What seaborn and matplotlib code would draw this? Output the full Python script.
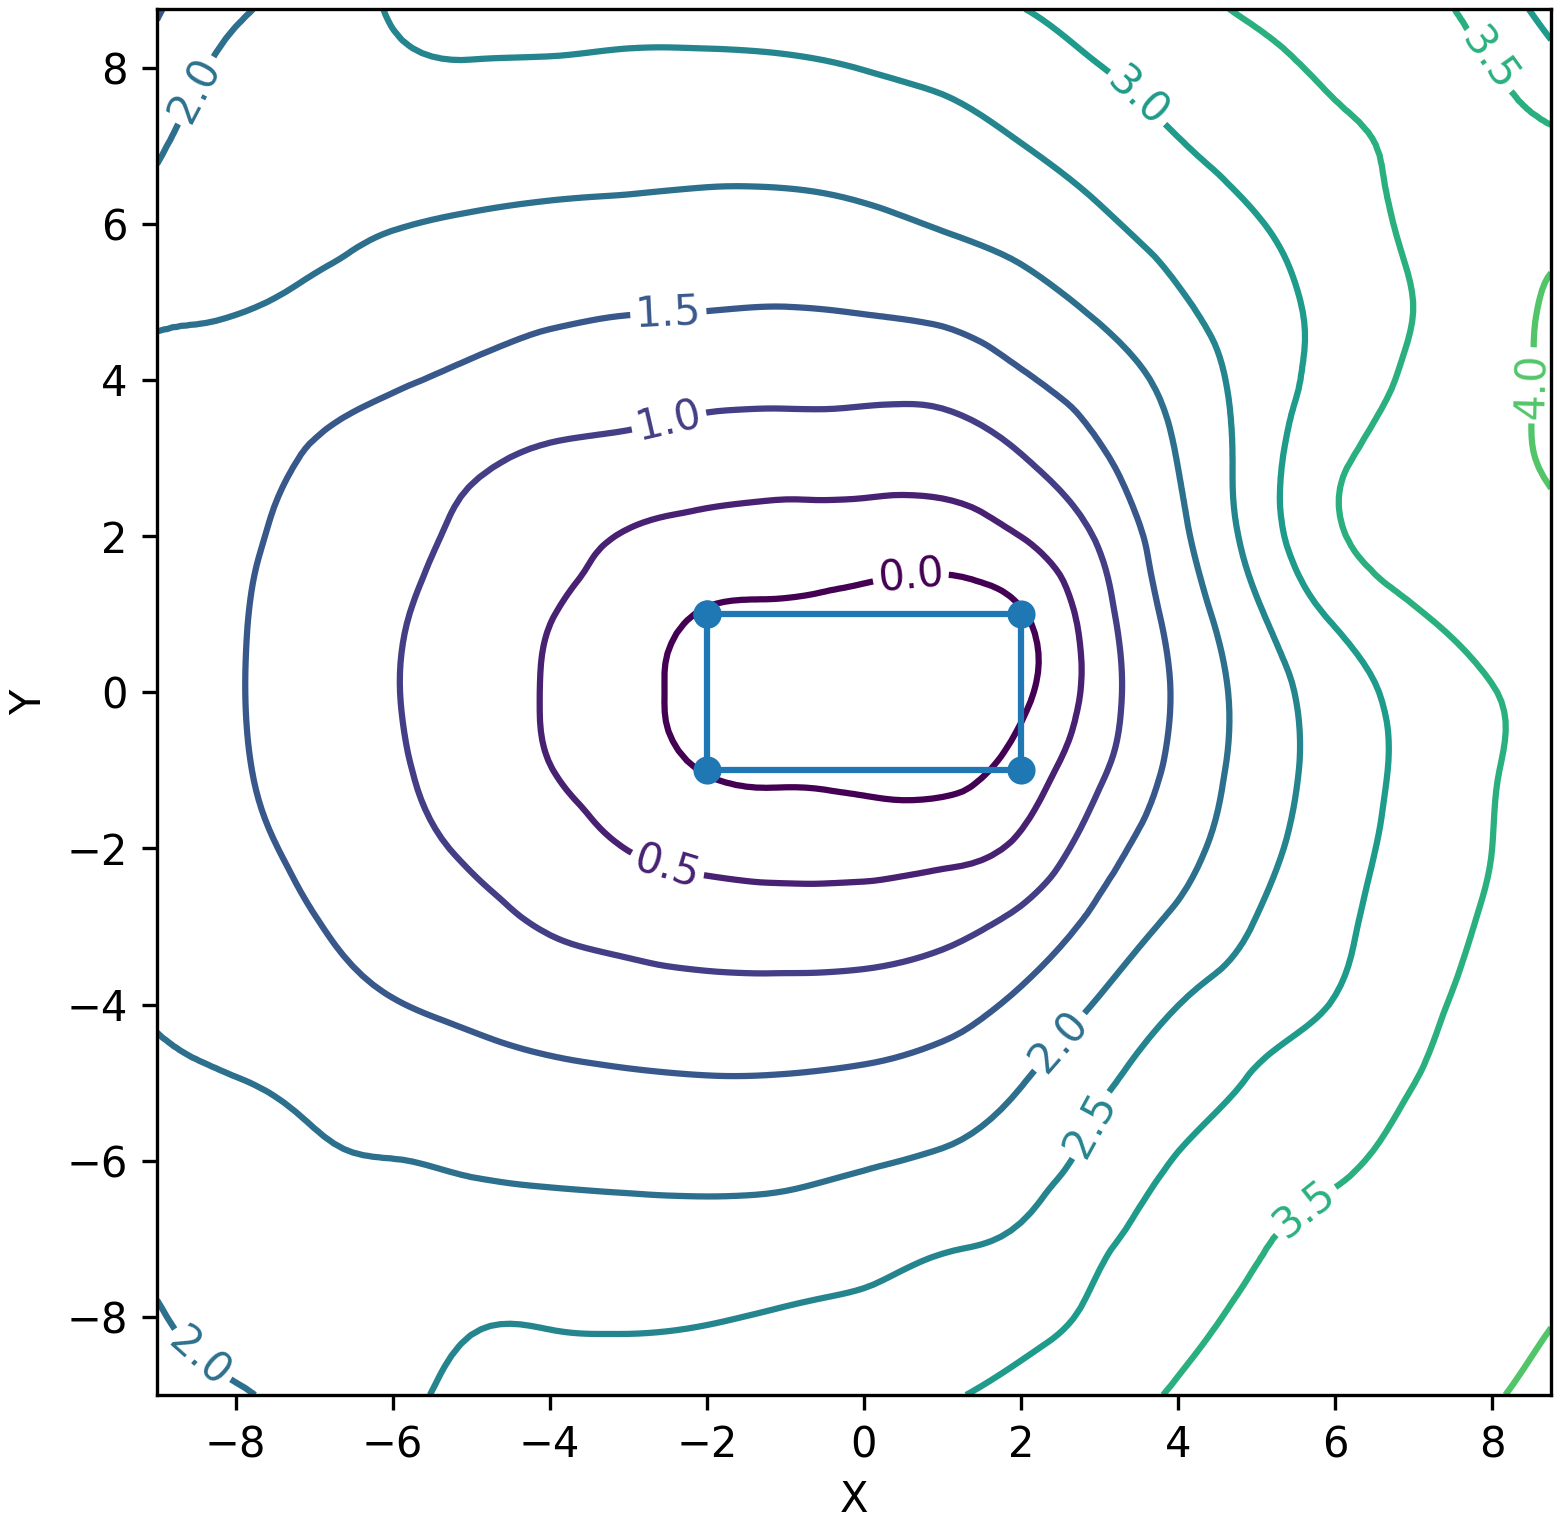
import numpy as np
import matplotlib
matplotlib.use("Agg")
from matplotlib import pyplot as plt
import matplotlib.tri as mtri
import seaborn as sns

# grid coordinates (last column/row sits on the plot edge at 8.75)
x_grid = [-9, -8, -7, -6, -5, -4, -3, -2, -1, 0, 1, 2, 3, 4, 5, 6, 7, 8, 8.75]
y_grid = [8.75, 8, 7, 6, 5, 4, 3, 2, 1, 0, -1, -2, -3, -4, -5, -6, -7, -8, -9]

# field values, one list per row (top row first)
z_y875 = [1.46, 1.93, 2.22, 2.53, 2.62, 2.63, 2.64, 2.64, 2.68, 2.76, 2.88, 2.99, 3.20, 3.37, 3.56, 3.62, 3.60, 3.30, 2.78]
z_y8 = [1.664, 2.12, 2.25, 2.42, 2.477, 2.465, 2.435, 2.433, 2.449, 2.51, 2.61, 2.77, 2.99, 3.19, 3.39, 3.55, 3.60, 3.51, 3.18]
z_y7 = [1.937, 2.25, 2.20, 2.22, 2.22, 2.196, 2.176, 2.156, 2.163, 2.22, 2.316, 2.49, 2.715, 2.973, 3.198, 3.42, 3.56, 3.63, 3.59]
z_y6 = [2.14, 2.20, 2.12, 2.02, 1.96, 1.918, 1.886, 1.86, 1.857, 1.915, 2.03, 2.178, 2.426, 2.70, 2.973, 3.27, 3.57, 3.75, 3.84]
z_y5 = [2.06, 2.05, 1.91, 1.787, 1.69, 1.615, 1.559, 1.541, 1.523, 1.563, 1.649, 1.833, 2.10, 2.445, 2.805, 3.16, 3.502, 3.80, 4.06]
z_y4 = [1.93, 1.76, 1.67, 1.55, 1.416, 1.277, 1.217, 1.17, 1.145, 1.147, 1.17, 1.436, 1.75, 2.17, 2.72, 3.20, 3.576, 3.857, 4.07]
z_y3 = [1.86, 1.66, 1.458, 1.266, 1.075, 0.94, 0.863, 0.763, 0.735, 0.72, 0.73, 0.976, 1.43, 2.014, 2.74, 3.41, 3.68, 3.886, 4.04]
z_y2 = [1.80, 1.58, 1.36, 1.139, 0.916, 0.689, 0.47, 0.35, 0.31, 0.28, 0.26, 0.505, 1.06, 1.873, 2.70, 3.435, 3.72, 3.88, 3.96]
z_y1 = [1.79, 1.54, 1.30, 1.054, 0.788, 0.516, 0.259, -0.03, -0.10, -0.21, -0.25, -0.04, 0.808, 1.685, 2.43, 3.076, 3.455, 3.76, 3.93]
z_y0 = [1.76, 1.53, 1.278, 1.025, 0.747, 0.4625, 0.15, -0.17, -0.45, -0.55, -0.45, -0.11, 0.733, 1.57, 2.224, 2.76, 3.165, 3.48, 3.72]
z_ym1 = [1.78, 1.55, 1.307, 1.063, 0.792, 0.511, 0.247, -0.02, -0.11, -0.17, -0.17, 0.21, 0.92, 1.64, 2.22, 2.72, 3.128, 3.47, 3.70]
z_ym2 = [1.80, 1.62, 1.39, 1.164, 0.938, 0.716, 0.49, 0.356, 0.315, 0.31, 0.355, 0.60, 1.273, 1.824, 2.33, 2.794, 3.173, 3.50, 3.72]
z_ym3 = [1.88, 1.72, 1.52, 1.34, 1.16, 0.969, 0.851, 0.767, 0.746, 0.76, 0.866, 1.146, 1.65, 2.116, 2.526, 2.90, 3.245, 3.57, 3.75]
z_ym4 = [1.96, 1.81, 1.665, 1.518, 1.41, 1.287, 1.21, 1.169, 1.159, 1.19, 1.306, 1.596, 2.05, 2.495, 2.758, 3.023, 3.354, 3.67, 3.80]
z_ym5 = [2.08, 2.02, 1.893, 1.775, 1.677, 1.607, 1.563, 1.532, 1.54, 1.591, 1.70, 1.98, 2.417, 2.758, 3.053, 3.274, 3.496, 3.745, 3.86]
z_ym6 = [2.15, 2.20, 2.06, 2.005, 1.948, 1.902, 1.877, 1.857, 1.873, 1.956, 2.06, 2.275, 2.654, 3.024, 3.222, 3.42, 3.62, 3.80, 3.90]
z_ym7 = [2.10, 2.20, 2.18, 2.17, 2.20, 2.186, 2.168, 2.169, 2.21, 2.30, 2.44, 2.56, 2.922, 3.175, 3.44, 3.65, 3.75, 3.85, 3.93]
z_ym8 = [1.97, 2.15, 2.20, 2.27, 2.455, 2.46, 2.44, 2.47, 2.54, 2.61, 2.70, 2.835, 3.094, 3.378, 3.566, 3.68, 3.80, 3.91, 3.99]
z_ym9 = [1.85, 1.96, 2.15, 2.385, 2.60, 2.70, 2.72, 2.74, 2.80, 2.88, 2.96, 3.125, 3.33, 3.53, 3.63, 3.75, 3.86, 3.98, 4.07]

levels = [0.0, 0.5, 1.0, 1.5, 2.0, 2.5, 3.0, 3.5, 4.0]

# rectangle outline with its corner points
rect_x = [-2, 2, 2, -2, -2]
rect_y = [1, 1, -1, -1, 1]

# where the contour labels sit
label_spots = [(0.59, 1.54), (-2.49, -2.18), (-2.49, 3.51), (-2.49, 4.87),
               (2.47, -4.46), (-8.51, 7.71), (-8.38, -8.43), (2.88, -5.54),
               (3.51, 7.64), (7.96, 8.09), (5.67, -6.7), (8.54, 3.93)]

Z = np.array([z_y875, z_y8, z_y7, z_y6, z_y5, z_y4, z_y3, z_y2, z_y1, z_y0,
              z_ym1, z_ym2, z_ym3, z_ym4, z_ym5, z_ym6, z_ym7, z_ym8, z_ym9])
gx, gy = np.meshgrid(x_grid, y_grid)

# let matplotlib smooth the coarse grid for drawing
tri = mtri.Triangulation(gx.ravel(), gy.ravel())
refiner = mtri.UniformTriRefiner(tri)
tri_fine, z_fine = refiner.refine_field(Z.ravel(), subdiv=3)

fig = plt.figure(figsize=(1562 / 300, 1521 / 300), dpi=300)
ax = fig.add_axes([0.1005, 0.0829, 0.8925, 0.9112])

cs = ax.tricontour(tri_fine, z_fine, levels=levels, cmap='viridis',
                   vmin=0, vmax=5.5, linewidths=1.5)
ax.clabel(cs, fmt='%1.1f', fontsize=10, manual=label_spots)

sns.lineplot(x=rect_x, y=rect_y, sort=False, estimator=None,
             marker='o', markersize=6, color='C0',
             markeredgecolor='C0', linewidth=1.5, ax=ax)

ax.set_xlim(-9, 8.75)
ax.set_ylim(-9, 8.75)
ax.set_xlabel('X', labelpad=3)
ax.set_ylabel('Y')

fig.savefig('out.png', dpi=300)
